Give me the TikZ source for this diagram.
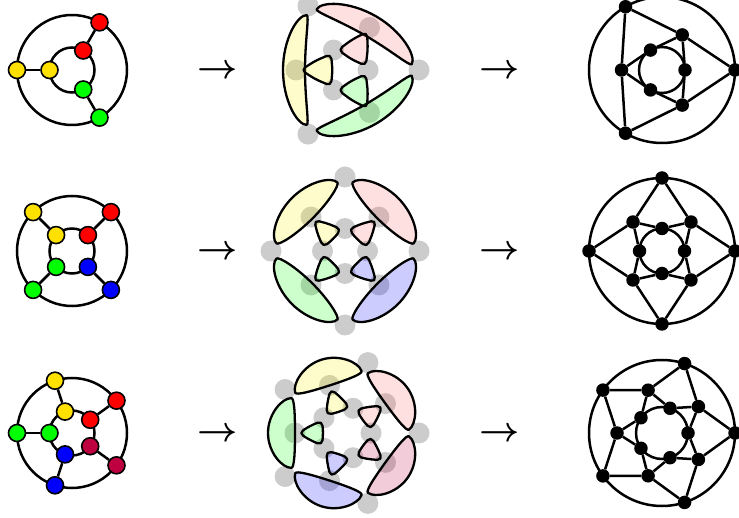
\documentclass[tikz,border=0pt]{standalone}
\usepackage{graphicx}
\usetikzlibrary{calc}

\definecolor{nodeyellow}{RGB}{255,225,0}

\begin{document}
\begin{tikzpicture}[
    x=1pt, y=1pt,
    edge/.style={line width=2.5pt},
    vertex/.style={circle, draw, line width=1.6pt, minimum size=17pt, inner sep=0pt},
    ghost/.style={circle, fill=gray!40, minimum size=21pt, inner sep=0pt},
    dot/.style={circle, fill=black, minimum size=13.5pt, inner sep=0pt},
    blob/.style={draw, line width=2.3pt, line join=round, fill opacity=0.2},
    maparrow/.style={anchor=base, inner sep=0pt}
]

\useasboundingbox (0,0) rectangle (739,517);

% -------------------------
% One row per prism:
% y / n / first angle / colours (vertex/face) / spoke radius (middle) /
% spoke radius (right) / inner radius / lens tip (x, y) / lens outer / lens inner
% -------------------------
\foreach \Y/\n/\start/\cols/\mr/\rr/\ri/\xtip/\ytip/\xout/\xin [count=\row] in {
    447/3/180/{nodeyellow/yellow, red/red!60, green/green}/49/40.5/23/38.4/54.9/62/40,
    266/4/135/{nodeyellow/yellow, red/red!60, blue/blue, green/green}/48/41/22.5/53.9/43.1/75/46,
    84/5/180/{green/green, nodeyellow/yellow, red/red!60, purple/purple, blue/blue}/50/45/26/53.7/34.9/77/50}
{
    \pgfmathsetmacro\half{180/\n}
    \pgfmathsetmacro\ra{\xtip+0.4*(\xout-\xtip)}
    \pgfmathsetmacro\rb{\xtip-max(0.4*(\xtip-\xin),3)}
    \pgfmathsetmacro\yh{0.55*\ytip}
    \pgfmathsetmacro\g{(2*\ri*cos(\half)+\mr)/3}

    % -------------------------
    % Prism graph (left)
    % -------------------------
    \begin{scope}[shift={(72,\Y)}]
        \coordinate (L\row) at (0,0);
        \draw[edge] (L\row) circle (55);
        \draw[edge] (L\row) circle (22.5);
        \foreach \c/\f [count=\k] in \cols {
            \pgfmathsetmacro\th{\start-360*(\k-1)/\n}
            \node[vertex, fill=\c] (lo\row-\k) at (\th:55) {};
            \node[vertex, fill=\c] (li\row-\k) at (\th:22.5) {};
            \draw[edge] (lo\row-\k) -- (li\row-\k);
        }
    \end{scope}

    \node[maparrow] (arrA\row) at (218,\Y-8.75) {\scalebox{3.5}{\boldmath$\rightarrow$}};

    % -------------------------
    % Edges as points, vertices as faces (middle)
    % -------------------------
    \begin{scope}[shift={(345,\Y)}]
        \foreach \c/\f [count=\k] in \cols {
            \pgfmathsetmacro\th{\start-360*(\k-1)/\n}
            \node[ghost] (go\row-\k) at (\th-\half:74) {};
            \node[ghost] (gm\row-\k) at (\th:\mr) {};
            \node[ghost] (gi\row-\k) at (\th-\half:\ri) {};
        }
        \foreach \c/\f [count=\k] in \cols {
            \pgfmathsetmacro\th{\start-360*(\k-1)/\n}
            % outer vertex -> bent lens
            \draw[blob, fill=\f] (\th:\xout)
                .. controls ($(\th:\xout)+(\th+90:\yh)$) and ($(\th:\ra)+(\th+90:\ytip)$) .. ($(\th:\xtip)+(\th+90:\ytip)$)
                .. controls ($(\th:\rb)+(\th+90:\ytip)$) and ($(\th:\xin)+(\th+90:\yh)$) .. (\th:\xin)
                .. controls ($(\th:\xin)+(\th-90:\yh)$) and ($(\th:\rb)+(\th-90:\ytip)$) .. ($(\th:\xtip)+(\th-90:\ytip)$)
                .. controls ($(\th:\ra)+(\th-90:\ytip)$) and ($(\th:\xout)+(\th-90:\yh)$) .. cycle;
            % inner vertex -> small rounded triangle
            \coordinate (G\row-\k) at (\th:\g);
            \coordinate (Ta\row-\k) at ($(G\row-\k)!.8!(gm\row-\k)$);
            \coordinate (Tb\row-\k) at ($(G\row-\k)!.8!(\th-\half:\ri)$);
            \coordinate (Tc\row-\k) at ($(G\row-\k)!.8!(\th+\half:\ri)$);
            \coordinate (Mab\row-\k) at ($(Ta\row-\k)!.5!(Tb\row-\k)$);
            \coordinate (Mbc\row-\k) at ($(Tb\row-\k)!.5!(Tc\row-\k)$);
            \coordinate (Mca\row-\k) at ($(Tc\row-\k)!.5!(Ta\row-\k)$);
            \draw[blob, fill=\f, rounded corners=5pt] (Ta\row-\k)
                -- ($(G\row-\k)!1.15!(Mab\row-\k)$) -- (Tb\row-\k)
                -- ($(G\row-\k)!1.15!(Mbc\row-\k)$) -- (Tc\row-\k)
                -- ($(G\row-\k)!1.15!(Mca\row-\k)$) -- cycle;
        }
    \end{scope}

    \node[maparrow] (arrB\row) at (500,\Y-8.75) {\scalebox{3.5}{\boldmath$\rightarrow$}};

    % -------------------------
    % Medial graph (right)
    % -------------------------
    \begin{scope}[shift={(662,\Y)}]
        \coordinate (R\row) at (0,0);
        \draw[edge] (R\row) circle (73);
        \draw[edge] (R\row) circle (\ri);
        \foreach \c/\f [count=\k] in \cols {
            \pgfmathsetmacro\th{\start-360*(\k-1)/\n}
            \node[dot] (mo\row-\k) at (\th-\half:73) {};
            \node[dot] (mm\row-\k) at (\th:\rr) {};
            \node[dot] (mi\row-\k) at (\th-\half:\ri) {};
        }
        \foreach \k in {1,...,\n} {
            \pgfmathtruncatemacro\p{mod(\k+\n-2,\n)+1}
            \draw[edge] (mo\row-\p) -- (mm\row-\k) -- (mo\row-\k);
            \draw[edge] (mi\row-\p) -- (mm\row-\k) -- (mi\row-\k);
        }
    \end{scope}
}

\end{tikzpicture}
\end{document}
